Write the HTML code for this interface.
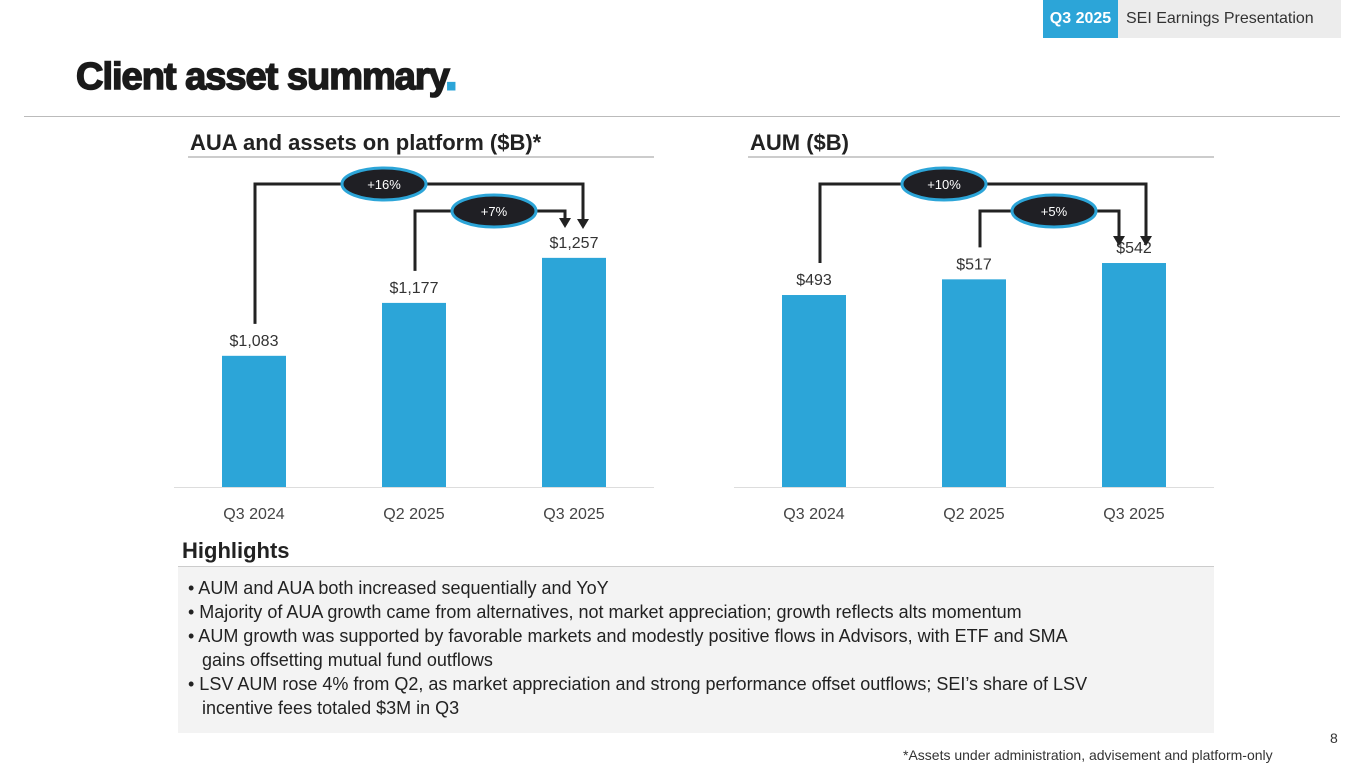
<!DOCTYPE html>
<html><head><meta charset="utf-8"><style>
body{margin:0;width:1365px;height:768px;background:#fff;position:relative;overflow:hidden;font-family:"Liberation Sans",sans-serif;color:#222}
.abs{position:absolute}
</style></head><body>
<div class="abs" style="left:1043px;top:0;width:75px;height:38px;background:#2ca5d8;color:#fff;font-weight:bold;font-size:16px;line-height:38px;text-align:center">Q3 2025</div>
<div class="abs" style="left:1118px;top:0;width:223px;height:38px;background:#ececec;color:#333;font-size:16px;line-height:38px;padding-left:8px;box-sizing:border-box">SEI Earnings Presentation</div>
<div class="abs" style="left:76px;top:56px;font-size:38px;font-weight:900;color:#1a1a1a;letter-spacing:-1px;-webkit-text-stroke:1.5px #1a1a1a">Client asset summary<span style="color:#2ca5d8;-webkit-text-stroke:3px #2ca5d8">.</span></div>
<div class="abs" style="left:24px;top:116px;width:1316px;height:1px;background:#bbb"></div>
<svg class="abs" style="left:0;top:0" width="1365" height="768" id="charts"></svg>
<div class="abs" style="left:182px;top:538px;font-size:22px;font-weight:bold;color:#222">Highlights</div>
<div class="abs" style="left:178px;top:566px;width:1036px;height:167px;background:#f3f3f3;border-top:1px solid #ccc;box-sizing:border-box;padding:9px 0 0 10px;font-size:18px;line-height:24px;color:#222">
<div>• AUM and AUA both increased sequentially and YoY</div>
<div>• Majority of AUA growth came from alternatives, not market appreciation; growth reflects alts momentum</div>
<div style="padding-left:14px;text-indent:-14px">• AUM growth was supported by favorable markets and modestly positive flows in Advisors, with ETF and SMA<br>gains offsetting mutual fund outflows</div>
<div style="padding-left:14px;text-indent:-14px">• LSV AUM rose 4% from Q2, as market appreciation and strong performance offset outflows; SEI’s share of LSV<br>incentive fees totaled $3M in Q3</div>
</div>
<div class="abs" style="left:1330px;top:730px;font-size:14px;color:#333">8</div>
<div class="abs" style="left:903px;top:747px;font-size:14px;color:#333">*Assets under administration, advisement and platform-only</div>
<script>
const categories=["Q3 2024","Q2 2025","Q3 2025"];
const auaValues=[1083,1177,1257];
const aumValues=[493,517,542];
const auaLabels=["$1,083","$1,177","$1,257"];
const aumLabels=["$493","$517","$542"];
const auaGrowth=["+16%","+7%"];
const aumGrowth=["+10%","+5%"];
const NS="http://www.w3.org/2000/svg";
const svg=document.getElementById('charts');
function mk(t,a,txt){const e=document.createElementNS(NS,t);for(const k in a)e.setAttribute(k,a[k]);if(txt!==undefined)e.textContent=txt;svg.appendChild(e);return e;}
function chart(o){
  const y=v=>o.base-(v-o.min)*o.k;
  const x=i=>o.x0+48+i*160;
  let t=mk('text',{x:o.x0+16,y:150,'font-size':22,'font-weight':'bold',fill:'#222'},o.title);
  
  
  let l=mk('line',{x1:o.x0+14,x2:o.x0+480,y1:157,y2:157,stroke:'#ccc','stroke-width':2});
  
  
  let ax=mk('line',{x1:o.x0,x2:o.x0+480,y1:o.base+0.5,y2:o.base+0.5,stroke:'#ddd','stroke-width':1});
  
  
  o.vals.forEach((v,i)=>{
    let b=mk('rect',{x:x(i),y:y(v),width:64,height:o.base-y(v),fill:'#2ca5d8'});
    
    
    let lb=mk('text',{x:x(i)+32,y:y(v)-10,'font-size':16,'text-anchor':'middle',fill:'#333'},o.labels[i]);
    
    
    let c=mk('text',{x:x(i)+32,y:519,'font-size':16,'text-anchor':'middle',fill:'#444'},categories[i]);
    
    
  });
  const conn=[[0,184,o.outerX2,o.outerTip],[1,211,o.innerX2,o.innerTip]];
  conn.forEach((c,j)=>{
    const sx=x(c[0])+32+o.dx, sy=y(o.vals[c[0]])-32;
    let p=mk('polyline',{points:`${sx},${sy} ${sx},${c[1]} ${c[2]},${c[1]} ${c[2]},${c[3]-8}`,fill:'none',stroke:'#222','stroke-width':3});
    
    
    let a=mk('polygon',{points:`${c[2]-6},${c[3]-10} ${c[2]+6},${c[3]-10} ${c[2]},${c[3]}`,fill:'#222'});
    
    
    const cx=j==0?o.x0+210:o.x0+320;
    let e=mk('ellipse',{cx:cx,cy:c[1],rx:42,ry:16,fill:'#1f1f24',stroke:'#2ca5d8','stroke-width':3});
    
    
    let gt=mk('text',{x:cx,y:c[1]+5,'font-size':13,'text-anchor':'middle',fill:'#fff'},o.growth[j]);
    
    
  });
}
chart({id:'aua',x0:174,base:487,min:850,k:0.563,vals:auaValues,labels:auaLabels,growth:auaGrowth,title:'AUA and assets on platform ($B)*',dx:1,outerX2:583,outerTip:229,innerX2:565,innerTip:228});
chart({id:'aum',x0:734,base:487,min:199,k:0.653,vals:aumValues,labels:aumLabels,growth:aumGrowth,title:'AUM ($B)',dx:6,outerX2:1146,outerTip:246,innerX2:1119,innerTip:246});
</script>
</body></html>
